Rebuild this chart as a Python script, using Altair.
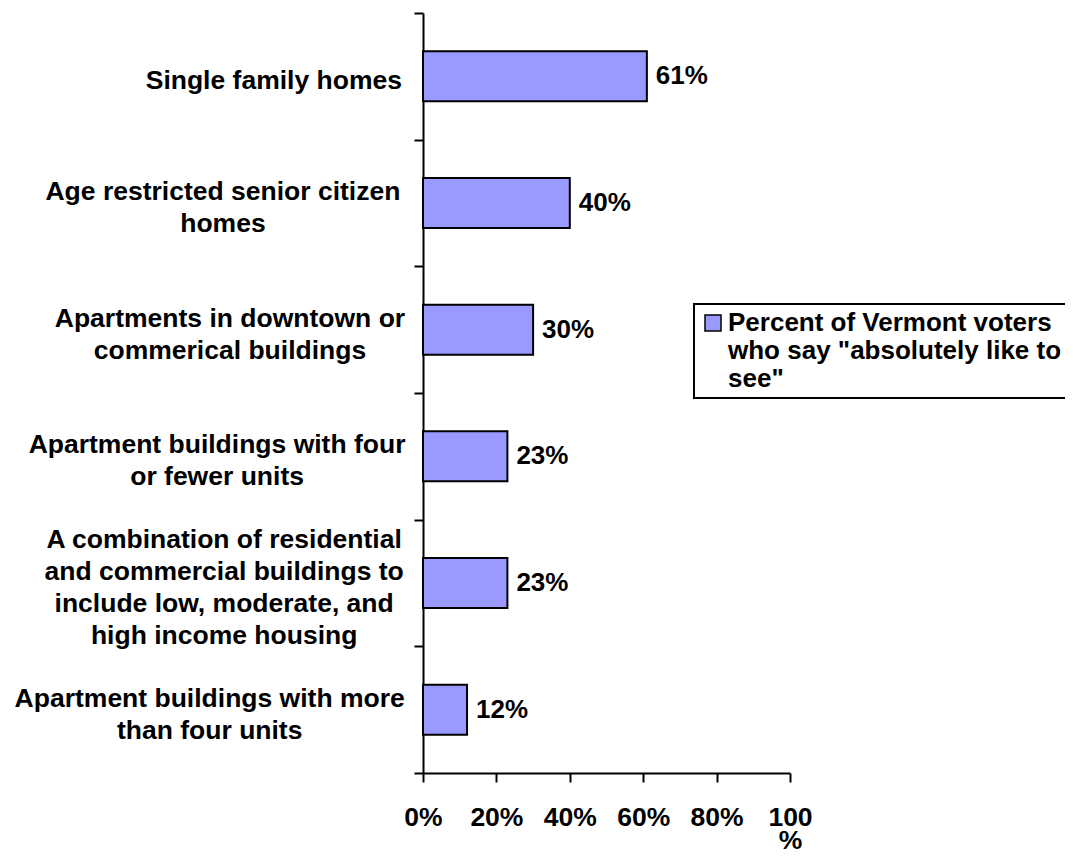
import altair as alt
import pandas as pd

categories = [
    "Single family homes",
    "Age restricted senior citizen|homes",
    "Apartments in downtown or|commerical buildings",
    "Apartment buildings with four|or fewer units",
    "A combination of residential|and commercial buildings to|include low, moderate, and|high income housing",
    "Apartment buildings with more|than four units",
]
values = [0.61, 0.40, 0.30, 0.23, 0.23, 0.12]
series_name = 'Percent of Vermont voters|who say "absolutely like to|see"'
x_ticks = [0, 0.2, 0.4, 0.6, 0.8, 1.0]

df = pd.DataFrame({"cat": categories, "val": values, "series": [series_name] * len(categories)})

FONT = "Liberation Sans"
FS = 26.5
LH = 31.7


def width_expr(s):
    def cnt(p):
        return f"(length({s})-length(replace({s},regexp('{p}','g'),'')))"
    return (f"(length({s})*0.585 - 0.307*{cnt('[il ,.j]')} - 0.252*{cnt('[tf]')}"
            f" - 0.196*{cnt('r')} + 0.304*{cnt('m')} + 0.193*{cnt('w')} + 0.12*{cnt('[A-Z]')})")


maxw = "max(" + ",".join(
    f"(length(datum.lines) > {k} ? {width_expr(f'datum.lines[{k}]')} : 0)" for k in range(4)
) + f")*{FS}"

y_enc = alt.Y(
    "cat:N",
    sort=categories,
    scale=alt.Scale(paddingInner=0, paddingOuter=0),
    axis=alt.Axis(
        labels=False, title=None, tickBand="extent", tickSize=9, tickWidth=2,
        tickColor="black", domainColor="black", domainWidth=2, grid=False,
    ),
)

bars = alt.Chart(df).mark_bar(
    stroke="black", strokeWidth=2, height=alt.RelativeBandSize(0.395)
).encode(
    x=alt.X(
        "val:Q",
        scale=alt.Scale(domain=[0, 1]),
        axis=alt.Axis(
            values=x_ticks, format=".0%", title=None, grid=False,
            labelExpr="datum.value == 1 ? ['100', '%'] : datum.label",
            labelFontSize=FS, labelFontWeight="bold", labelFont=FONT, labelColor="black",
            labelPadding=22, labelLineHeight=23, tickSize=9, tickWidth=2, tickColor="black",
            domainColor="black", domainWidth=2, labelFlush=False, labelOverlap=False,
        ),
    ),
    y=y_enc,
    color=alt.Color(
        "series:N",
        scale=alt.Scale(range=["#9999FF"]),
        legend=alt.Legend(
            title=None, orient="none", legendX=271, legendY=291, padding=6,
            strokeColor="black", symbolType="square", symbolSize=256,
            symbolStrokeColor="black", symbolStrokeWidth=1.5, symbolOffset=0,
            labelFontSize=26, labelFont=FONT, labelFontWeight="bold", labelColor="black",
            labelExpr="split(datum.label, '|')", labelLimit=600, labelOffset=2,
        ),
    ),
)

value_labels = alt.Chart(df).mark_text(
    align="left", baseline="middle", dx=9, fontSize=26, fontWeight="bold", font=FONT, color="black"
).encode(
    x="val:Q",
    y=y_enc,
    text=alt.Text("val:Q", format=".0%"),
)

cat_labels = alt.Chart(df).transform_calculate(
    lines="split(datum.cat, '|')"
).transform_calculate(
    w=maxw
).mark_text(
    align="center", baseline="middle", fontSize=FS, fontWeight="bold", font=FONT,
    color="black", lineHeight=LH, dx={"expr": "-20 - datum.w/2"},
    dy={"expr": f"-(length(datum.lines)-1)*{LH}/2 + 5"},
).encode(
    x=alt.value(0),
    y=y_enc,
    text=alt.Text("lines:N"),
)

chart = alt.layer(bars, value_labels, cat_labels).properties(
    width=367,
    height=760,
    autosize=alt.AutoSizeParams(type="none"),
    padding={"left": 415, "top": 5, "right": 275, "bottom": 80},
    background="white",
).configure(font=FONT).configure_view(stroke="transparent", strokeWidth=0).configure_axis(
    grid=False
).configure_legend(strokeWidth=2)

chart.save("out.html", embed_options={"renderer": "svg", "actions": False})
